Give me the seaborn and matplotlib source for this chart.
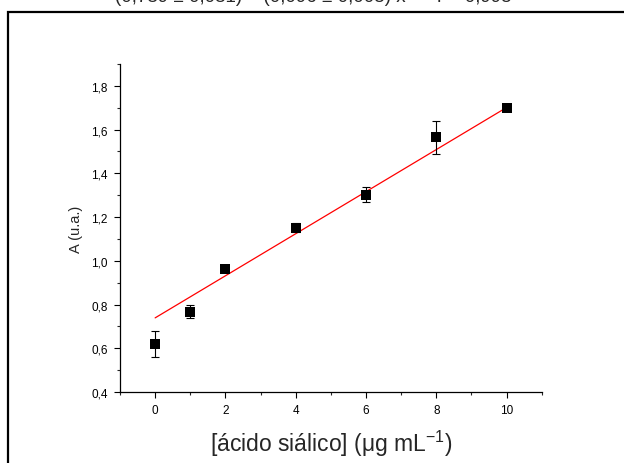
import matplotlib
matplotlib.use("Agg")
import matplotlib.pyplot as plt
import seaborn as sns
import numpy as np
import pandas as pd
from matplotlib.patches import Rectangle
from matplotlib.ticker import FixedLocator, MultipleLocator

# ---- data ----
conc = [0, 1, 2, 4, 6, 8, 10]
absorb = [0.620, 0.768, 0.961, 1.151, 1.303, 1.565, 1.697]
err = [0.058, 0.028, 0.010, 0.020, 0.035, 0.075, 0.010]
fit_x = [0, 10]
fit_y = [0.739, 1.701]
y_ticks = [0.4, 0.6, 0.8, 1.0, 1.2, 1.4, 1.6, 1.8]
y_tick_labels = ["0,4", "0,6", "0,8", "1,0", "1,2", "1,4", "1,6", "1,8"]
x_ticks = [0, 2, 4, 6, 8, 10]
x_tick_labels = ["0", "2", "4", "6", "8", "10"]
top_text = "(0,739 \u00b1 0,031) + (0,096 \u00b1 0,005) x      r = 0,995"

sns.set_style("ticks")
plt.rcParams['font.family'] = ['Liberation Sans', 'DejaVu Sans']
plt.rcParams['mathtext.fontset'] = 'custom'
plt.rcParams['mathtext.rm'] = 'Liberation Sans'
plt.rcParams['mathtext.it'] = 'Liberation Sans'
plt.rcParams['mathtext.bf'] = 'Liberation Sans'

fig = plt.figure(figsize=(6.24, 4.64), dpi=100)
W, H = 624, 464
ax = fig.add_axes([120 / W, 1 - 393 / H, (541.7 - 120) / W, (393 - 65) / H])

df = pd.DataFrame({"conc": conc, "A": absorb})
fit_df = pd.DataFrame({"x": fit_x, "y": fit_y})

sns.lineplot(data=fit_df, x="x", y="y", ax=ax, color="#ff0000", lw=0.9, zorder=2)
ax.errorbar(conc, absorb, yerr=err, fmt="none", ecolor="black", elinewidth=0.8,
            capsize=3, capthick=0.8, zorder=3)
sns.scatterplot(data=df, x="conc", y="A", ax=ax, marker="s", color="black",
                s=42, edgecolor="black", linewidth=0, zorder=4)

ax.set_xlim(-1, 11)
ax.set_ylim(0.4, 1.9)
ax.xaxis.set_major_locator(FixedLocator(x_ticks))
ax.set_xticklabels(x_tick_labels)
ax.xaxis.set_minor_locator(MultipleLocator(1))
ax.yaxis.set_major_locator(FixedLocator(y_ticks))
ax.set_yticklabels(y_tick_labels)
ax.yaxis.set_minor_locator(MultipleLocator(0.1))

ax.tick_params(axis="both", which="major", direction="out", length=4, width=0.8,
               labelsize=8.5, colors="black", pad=5)
ax.tick_params(axis="both", which="minor", direction="out", length=2.5, width=0.8)
for side in ["top", "right"]:
    ax.spines[side].set_visible(False)
for side in ["left", "bottom"]:
    ax.spines[side].set_linewidth(0.9)
    ax.spines[side].set_color("black")

ax.set_ylabel("A (u.a.)", fontsize=10.5, labelpad=6)
ax.set_xlabel("[ácido siálico] (\u03bcg mL$^{\\mathregular{-1}}$)", fontsize=16.5, labelpad=8)

# frame border (left and top visible, runs off right/bottom)
fig.patches.append(Rectangle((7.5 / W, -0.1), 1.2, 1 - 12.5 / H + 0.1,
                             transform=fig.transFigure, fill=False,
                             edgecolor="black", linewidth=1.6))
fig.text(115 / W, 1 - 2.5 / H, top_text, fontsize=13.5, ha="left", va="baseline")

fig.savefig("out.png", dpi=100)
